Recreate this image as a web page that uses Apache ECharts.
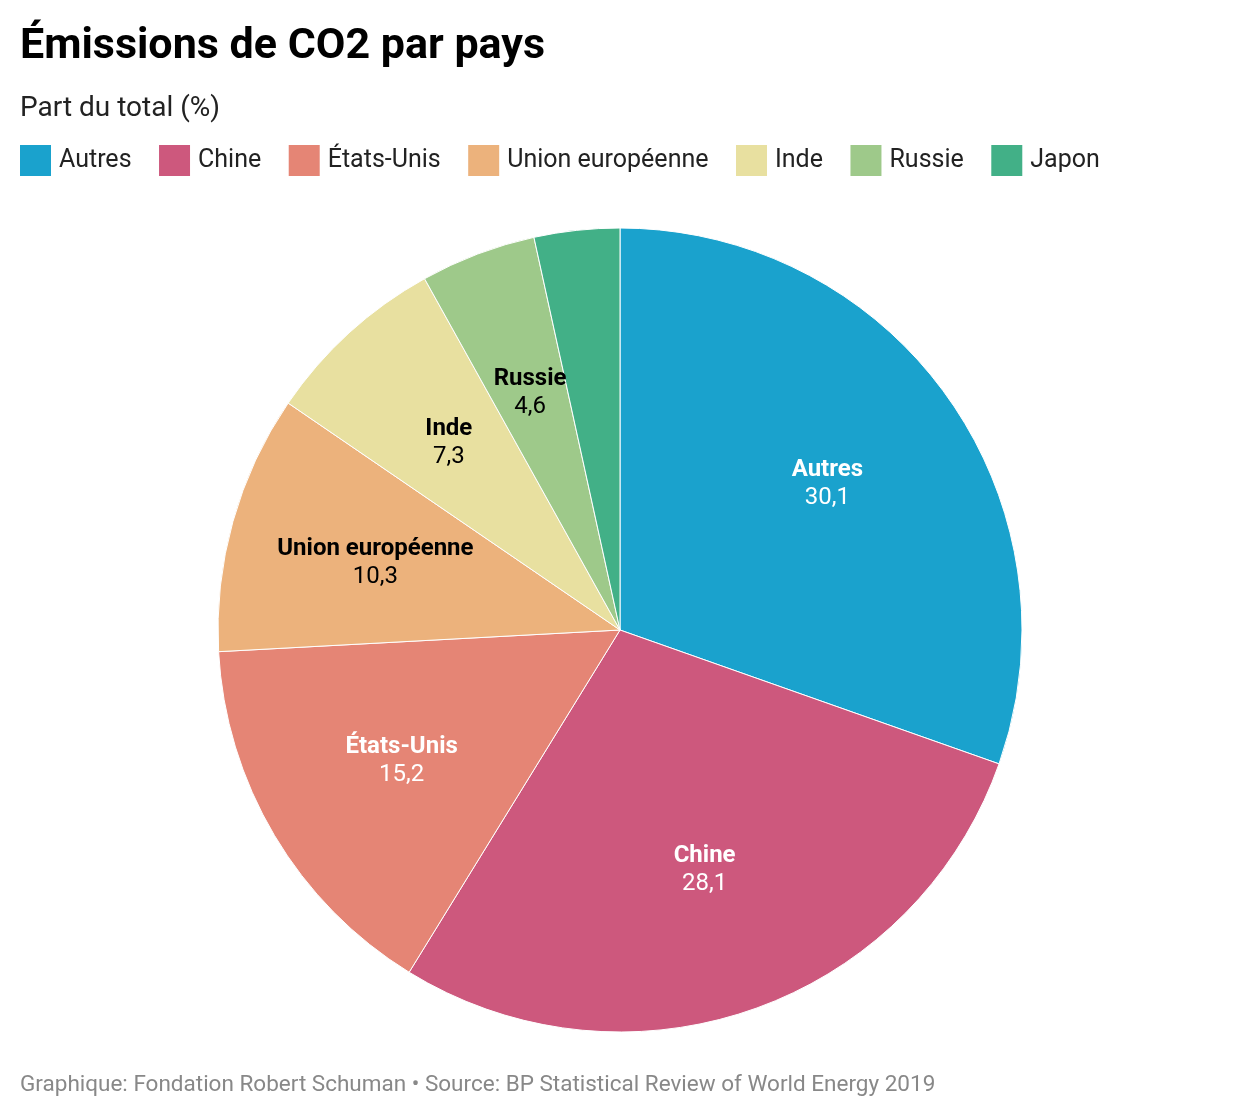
<!DOCTYPE html>
<html>
<head>
<meta charset="utf-8">
<script src="https://cdn.jsdelivr.net/npm/echarts@6/dist/echarts.min.js"></script>
<style>
  html, body { margin: 0; padding: 0; background: #fff; }
  #chart { width: 1240px; height: 1118px; }
</style>
</head>
<body>
<div id="chart"></div>
<script>
// share of world CO2 emissions, in %
const countries = ['Autres', 'Chine', 'États-Unis', 'Union européenne', 'Inde', 'Russie', 'Japon'];
const shares = [30.1, 28.1, 15.2, 10.3, 7.3, 4.6, 3.4];
const colors = ['#1aa2cd', '#cd587d', '#e58575', '#ecb27c', '#e8e0a0', '#9ec98a', '#42b087'];
const labelColors = ['#fff', '#fff', '#fff', '#000', '#000', '#000', '#000'];
const showLabel = [true, true, true, true, true, true, false];

const FONT = 'Roboto, "Noto Sans", sans-serif';

const pieData = countries.map((name, i) => ({
    name: name,
    value: shares[i],
    itemStyle: { color: colors[i] }
}));

// transparent copy only used to place labels a bit further out than mid radius
const labelData = countries.map((name, i) => ({
    name: name,
    value: shares[i],
    itemStyle: { color: 'rgba(0,0,0,0)', borderWidth: 0 },
    label: {
        show: showLabel[i],
        rich: {
            n: { color: labelColors[i], fontFamily: FONT, fontSize: 24, fontWeight: 'bold', lineHeight: 28 },
            v: { color: labelColors[i], fontFamily: FONT, fontSize: 24, lineHeight: 28 }
        }
    }
}));

const chart = echarts.init(document.getElementById('chart'));
const option = {
    animation: false,
    backgroundColor: '#fff',
    title: [
        {
            text: 'Émissions de CO2 par pays',
            left: 20,
            top: 26,
            padding: 0,
            textStyle: { fontFamily: FONT, fontSize: 43, fontWeight: 'bold', color: '#000' }
        },
        {
            text: 'Part du total (%)',
            left: 20,
            top: 95,
            padding: 0,
            textStyle: { fontFamily: FONT, fontSize: 28, fontWeight: 'normal', color: '#222' }
        },
        {
            text: 'Graphique: Fondation Robert Schuman • Source: BP Statistical Review of World Energy 2019',
            left: 20,
            top: 1074,
            padding: 0,
            textStyle: { fontFamily: FONT, fontSize: 22.5, fontWeight: 'normal', color: '#888' }
        }
    ],
    legend: {
        data: countries,
        left: 18,
        top: 143,
        padding: 0,
        icon: 'rect',
        itemWidth: 33,
        itemHeight: 33,
        itemGap: 25.5,
        selectedMode: false,
        textStyle: { fontFamily: FONT, fontSize: 25, color: '#222', padding: [0, 0, 0, 2] }
    },
    series: [
        {
            type: 'pie',
            center: [620, 630],
            radius: [0, 402],
            startAngle: 90,
            clockwise: true,
            silent: true,
            label: { show: false },
            labelLine: { show: false },
            itemStyle: { borderColor: '#fff', borderWidth: 1 },
            data: pieData
        },
        {
            type: 'pie',
            center: [620, 631],
            radius: [0, 502],
            startAngle: 90,
            clockwise: true,
            silent: true,
            z: 3,
            label: {
                position: 'inside',
                formatter: p => '{n|' + p.name + '}\n{v|' + p.value.toFixed(1).replace('.', ',') + '}'
            },
            labelLine: { show: false },
            data: labelData
        }
    ]
};
chart.setOption(option);
</script>
</body>
</html>
